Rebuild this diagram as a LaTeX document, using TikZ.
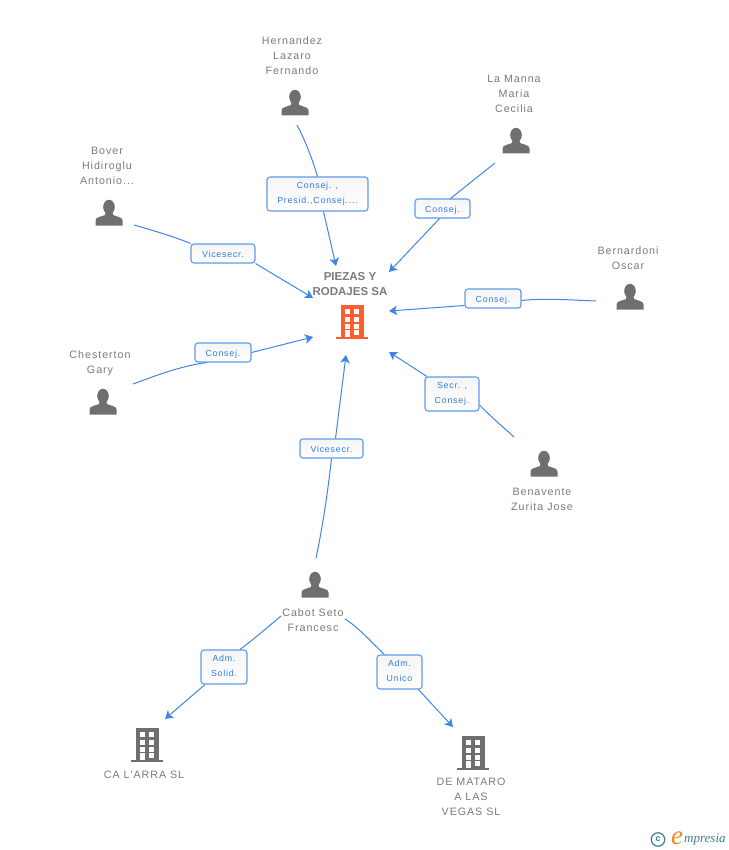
\documentclass[tikz,border=0pt]{standalone}
\usepackage{fontspec}
\setmainfont{Liberation Sans}
\newfontfamily\spacedfont[LetterSpace=9]{Liberation Sans}
\newfontfamily\logofont{Liberation Serif}
\usetikzlibrary{arrows.meta}
\definecolor{iconGray}{HTML}{6F6F6F}
\definecolor{textGray}{HTML}{7A7A7A}
\definecolor{linkBlue}{HTML}{3F86E4}
\definecolor{boxBlue}{HTML}{5E9BE8}
\definecolor{labelBlue}{HTML}{2F7BE0}
\definecolor{hubOrange}{HTML}{FB5F2E}
\definecolor{logoTeal}{HTML}{3B7F95}
\definecolor{logoOrange}{HTML}{F08A1D}
\newcommand{\lowerline}[1]{\raisebox{-2pt}[0pt][0pt]{#1}}
\newcommand{\buildingshape}[1]{%
  \fill[#1] (-16,15.2) rectangle (16,17.2);
  \fill[#1] (-11.5,-17) rectangle (11.5,15.4);
  \foreach \yy in {-13,-5.5,1.5}{
    \fill[white] (-7,\yy) rectangle (-2,\yy+5);
    \fill[white] (2,\yy) rectangle (7,\yy+5);}
  \fill[white] (-7,8) rectangle (-2,15.3);
  \fill[white] (2,8) rectangle (7,13);
}
\tikzset{
  x=1pt,y=-1pt,
  personicon/.style={minimum width=30pt,minimum height=30pt,inner sep=0,path picture={
    \fill[iconGray] (0,-6) ellipse (5.8 and 7.2);
    \fill[iconGray] (-13.5,12.5) -- (-13.5,7.5) .. controls (-13.5,4.5) and (-9,3.8) .. (-4,2)
      -- (-3.5,-1) -- (3.5,-1) -- (4,2) .. controls (9,3.8) and (13.5,4.5) .. (13.5,7.5) -- (13.5,12.5) -- cycle;
  }},
  graybuilding/.style={minimum width=34pt,minimum height=36pt,inner sep=0,path picture={\buildingshape{iconGray}}},
  hubbuilding/.style={minimum width=34pt,minimum height=36pt,inner sep=0,path picture={\buildingshape{hubOrange}}},
  nametext/.style={inner sep=0,align=center,text=textGray,font=\spacedfont\fontsize{10.7}{15}\selectfont},
  hubtext/.style={inner sep=0,align=center,text=textGray,font=\bfseries\fontsize{11.5}{15}\selectfont},
  rolebox/.style={draw=boxBlue,line width=1.1pt,rounded corners=3pt,inner sep=0,align=center,
    top color=black!4,bottom color=white,text=labelBlue,
    font=\spacedfont\fontsize{8.8}{15}\selectfont,
    execute at begin node={\rule{0pt}{9.5pt}},
    execute at end node={\rule[-2.5pt]{0pt}{2.5pt}}},
  roleboxtwo/.style={draw=boxBlue,line width=1.1pt,rounded corners=3pt,inner sep=0,align=center,
    top color=black!4,bottom color=white,text=labelBlue,
    font=\spacedfont\fontsize{8.8}{15}\selectfont,minimum height=34pt},
  link/.style={draw=linkBlue,line width=1pt},
  arrowlink/.style={link,-{Stealth[length=8pt,width=9.5pt,inset=2pt]}},
}
\begin{document}
\begin{tikzpicture}
\useasboundingbox (0,0) rectangle (728,850);
% icons
\node[hubbuilding] (hub) at (352,322) {};
\node[hubtext] (hubname) at (350,284) {PIEZAS Y\\RODAJES SA};
\node[personicon] (hernandez) at (295,103) {};
\node[nametext] (hernandezname) at (292,56) {Hernandez\\Lazaro\\Fernando};
\node[personicon] (lamanna) at (516,141) {};
\node[nametext] (lamannaname) at (514,94) {La Manna\\Maria\\Cecilia};
\node[personicon] (bover) at (109,213) {};
\node[nametext] (bovername) at (107,166) {Bover\\Hidiroglu\\Antonio...};
\node[personicon] (bernardoni) at (630,297) {};
\node[nametext] (bernardoniname) at (628,258) {Bernardoni\\Oscar};
\node[personicon] (chesterton) at (103,402) {};
\node[nametext] (chestertonname) at (100,363) {Chesterton\\Gary};
\node[personicon] (benavente) at (544,464) {};
\node[nametext] (benaventename) at (542,499.5) {Benavente\\Zurita Jose};
\node[personicon] (cabot) at (315,585) {};
\node[nametext] (cabotname) at (313,620.5) {Cabot Seto\\Francesc};
\node[graybuilding] (arra) at (147,745) {};
\node[nametext] (arraname) at (144,774.5) {CA L'ARRA SL};
\node[graybuilding] (mataro) at (473,753) {};
\node[nametext] (mataroname) at (471,797) {DE MATARO\\A LAS\\VEGAS SL};
% role boxes
\node[roleboxtwo,minimum width=101pt] (b1) at (317.5,194) {\lowerline{Consej. ,}\\\lowerline{Presid.,Consej....}};
\node[rolebox,minimum width=55pt,minimum height=19pt] (b2) at (442.5,208.5) {Consej.};
\node[rolebox,minimum width=64pt,minimum height=19pt] (b3) at (223,253.5) {Vicesecr.};
\node[rolebox,minimum width=56pt,minimum height=19pt] (b4) at (493,298.5) {Consej.};
\node[rolebox,minimum width=56pt,minimum height=19pt] (b5) at (223,352.5) {Consej.};
\node[roleboxtwo,minimum width=54pt] (b6) at (452,394) {\lowerline{Secr. ,}\\\lowerline{Consej.}};
\node[rolebox,minimum width=63pt,minimum height=19pt] (b7) at (331.5,448.5) {Vicesecr.};
\node[roleboxtwo,minimum width=46pt] (b8) at (224,667) {\lowerline{Adm.}\\\lowerline{Solid.}};
\node[roleboxtwo,minimum width=45pt] (b9) at (399.5,672) {\lowerline{Adm.}\\\lowerline{Unico}};
% free ends
\coordinate (s1) at (297,125);
\coordinate (e1) at (336,266);
\coordinate (s2) at (495,163);
\coordinate (e2) at (389,272);
\coordinate (s3) at (134,225);
\coordinate (e3) at (313,298);
\coordinate (s4) at (596,301);
\coordinate (e4) at (389,311);
\coordinate (s5) at (133,384);
\coordinate (e5) at (313,337);
\coordinate (s6) at (514,437);
\coordinate (e6) at (389,352);
\coordinate (s7) at (316,558);
\coordinate (e7) at (346,355);
\coordinate (s8) at (281,616);
\coordinate (e8) at (165,719);
\coordinate (s9) at (345,619);
\coordinate (e9) at (453,727);
% connectors
\draw[link] (s1) .. controls (305,140) and (312,158) .. (b1.north);
\draw[arrowlink] ([xshift=6pt]b1.south) -- (e1);
\draw[link] (s2) -- ([xshift=8pt]b2.north);
\draw[arrowlink] ([xshift=-3pt]b2.south) -- (e2);
\draw[link] (s3) .. controls (155,231) and (175,237) .. (b3.north west);
\draw[arrowlink] (b3.south east) -- (e3);
\draw[link] (s4) .. controls (570,300) and (545,298) .. ([yshift=-2pt]b4.east);
\draw[arrowlink] ([yshift=-7pt]b4.west) -- (e4);
\draw[link] (s5) .. controls (155,376) and (180,366) .. ([xshift=-16pt]b5.south);
\draw[arrowlink] (b5.east) -- (e5);
\draw[link] (s6) .. controls (502,426) and (490,416) .. ([yshift=-11pt]b6.east);
\draw[arrowlink] ([xshift=-25pt]b6.north) -- (e6);
\draw[link] (s7) .. controls (323,525) and (328,490) .. (b7.south);
\draw[arrowlink] ([xshift=4pt]b7.north) -- (e7);
\draw[link] (s8) .. controls (268,627) and (254,639) .. ([xshift=16pt]b8.north);
\draw[arrowlink] ([xshift=-19pt]b8.south) -- (e8);
\draw[link] (s9) .. controls (358,627) and (370,641) .. ([xshift=-15pt]b9.north);
\draw[arrowlink] ([xshift=19pt]b9.south) -- (e9);
% logo
\node[circle,draw=logoTeal,line width=1.2pt,minimum size=13.5pt,inner sep=0,text=logoTeal,font=\bfseries\fontsize{9}{9}\selectfont] (logoc) at (658,839.5) {c};
\node[inner sep=0,text=logoOrange,font=\logofont\itshape\fontsize{27}{27}\selectfont] (logoe) at (677,838.5) {e};
\node[inner sep=0,anchor=west,text=logoTeal,font=\logofont\itshape\fontsize{13}{14}\selectfont] (logotext) at (684,840) {mpresia};
\end{tikzpicture}
\end{document}
